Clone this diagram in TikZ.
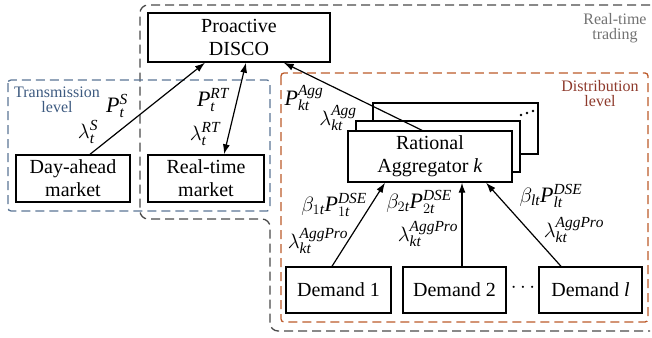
\documentclass[tikz,border=0pt]{standalone}
\usepackage{fontspec}
\setmainfont{Liberation Serif}
\usetikzlibrary{arrows.meta}

\definecolor{rtgray}{HTML}{4A4A4A}
\definecolor{rttext}{HTML}{727272}
\definecolor{trblue}{HTML}{5A7595}
\definecolor{trtext}{HTML}{3D5A80}
\definecolor{dsorange}{HTML}{BC5A2A}
\definecolor{dstext}{HTML}{8E3A2C}

% italic letters in the text face
\newcommand{\vi}[1]{\mathit{#1}}

\begin{document}
\begin{tikzpicture}[x=1pt,y=-1pt,
    box/.style={draw,line width=1.4pt,fill=white,align=center,inner sep=0pt,
        font=\fontsize{20}{23}\selectfont},
    lab/.style={inner sep=0pt,font=\fontsize{22}{24}\selectfont},
    area/.style={align=center,font=\fontsize{16}{15}\selectfont},
    frame/.style={line width=1.3pt,dash pattern=on 9pt off 5pt},
    tip/.tip={Latex[length=10pt,width=7pt]},
    arr/.style={line width=1.2pt,-tip}]
    \useasboundingbox (0,0) rectangle (652,337);

    %areas
    \draw[frame,rtgray,rounded corners=8pt] (650,5) -- (140,5) -- (140,219)
        -- (270,219) -- (270,331) -- (650,331);
    \draw[frame,trblue,rounded corners=3pt] (8,80) rectangle (270,211);
    \draw[frame,dsorange,rounded corners=3pt] (281,73) rectangle (648,322);
    \node[area,rttext] (rtlab) at (615,28) {Real-time\\trading};
    \node[area,trtext] (trlab) at (57,100) {Transmission\\level};
    \node[area,dstext] (dslab) at (600,94) {Distribution\\level};

    %boxes
    \node[box,minimum width=182pt,minimum height=49pt] (disco) at (239,37.5) {Proactive\\DISCO};
    \node[box,minimum width=114pt,minimum height=47pt] (dayahead) at (73,178.5) {Day-ahead\\market};
    \node[box,minimum width=116pt,minimum height=47pt] (rtmarket) at (206,178.5) {Real-time\\market};
    \node[box,minimum width=165pt,minimum height=51pt] (aggback) at (455.5,128.5) {};
    \node[box,minimum width=164pt,minimum height=51pt] (aggmid) at (438,146.5) {};
    \node[box,minimum width=164pt,minimum height=51pt] (agg) at (430,156.5) {Rational\\Aggregator \textit{k}};
    \node[box,minimum width=105pt,minimum height=46pt] (dem1) at (338.5,290) {Demand 1};
    \node[box,minimum width=103pt,minimum height=46pt] (dem2) at (454.5,290) {Demand 2};
    \node[box,minimum width=103pt,minimum height=46pt] (deml) at (590.5,290) {Demand \textit{l}};
    \node[lab] (demdots) at (523,288) {$\cdots$};
    \foreach \i in {0,1,2}
        \fill (521+6*\i,115-2*\i) circle (1.4pt);

    %flows
    \draw[arr] ([xshift=17pt]dayahead.north) -- ([xshift=-34pt]disco.south);
    \draw[arr,tip-tip] ([xshift=18pt]rtmarket.north) -- ([xshift=7pt]disco.south);
    \draw[arr] ([xshift=-8pt]agg.north) -- ([xshift=-47pt]disco.south east);
    \draw[arr] ([xshift=-6.5pt]dem1.north) -- ([xshift=-45pt]agg.south);
    \draw[arr] ([xshift=7.5pt]dem2.north) -- ([xshift=32pt]agg.south);
    \draw[arr] ([xshift=-29.5pt]deml.north) -- ([xshift=56pt]agg.south);

    %prices and powers
    \node[lab] (ps) at (117,106) {$\vi{P}_{\vi{t}}^{\vi{S}}$};
    \node[lab] (ls) at (88,132) {$\lambda_{\vi{t}}^{\vi{S}}$};
    \node[lab] (prt) at (213,100) {$\vi{P}_{\vi{t}}^{\vi{RT}}$};
    \node[lab] (lrt) at (205,134) {$\lambda_{\vi{t}}^{\vi{RT}}$};
    \node[lab] (pagg) at (304,98) {$\vi{P}_{\vi{kt}}^{\vi{Agg}}$};
    \node[lab] (lagg) at (338,118) {$\lambda_{\vi{kt}}^{\vi{Agg}}$};
    \node[lab] (p1) at (334,205) {$\beta_{1\vi{t}}\vi{P}_{1\vi{t}}^{\vi{DSE}}$};
    \node[lab] (l1) at (318,241) {$\lambda_{\vi{kt}}^{\vi{AggPro}}$};
    \node[lab] (p2) at (419,202) {$\beta_{2\vi{t}}\vi{P}_{2\vi{t}}^{\vi{DSE}}$};
    \node[lab] (l2) at (428,234) {$\lambda_{\vi{kt}}^{\vi{AggPro}}$};
    \node[lab] (pl) at (551,196) {$\beta_{\vi{lt}}\vi{P}_{\vi{lt}}^{\vi{DSE}}$};
    \node[lab] (ll) at (574,230) {$\lambda_{\vi{kt}}^{\vi{AggPro}}$};
\end{tikzpicture}
\end{document}
